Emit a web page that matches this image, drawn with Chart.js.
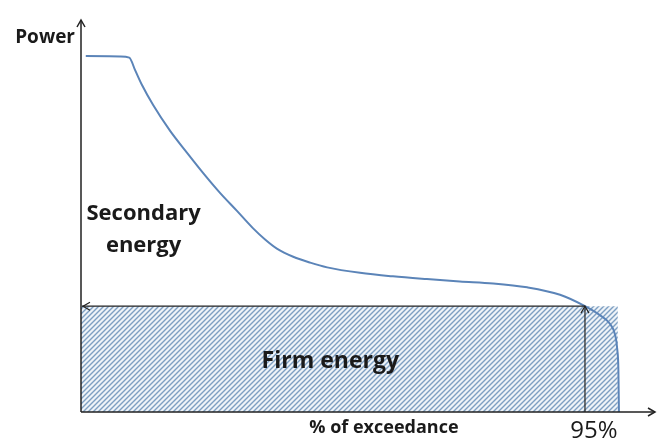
<!DOCTYPE html>
<html>
<head>
<meta charset="utf-8">
<script src="https://cdn.jsdelivr.net/npm/chart.js@4/dist/chart.umd.min.js"></script>
<style>
  html, body { margin: 0; padding: 0; background: #fff; }
  #wrap { width: 659px; height: 441px; }
</style>
</head>
<body>
<div id="wrap"><canvas id="duration"></canvas></div>
<script>
// % of exceedance vs power (arbitrary units, 0..100)
var exceedance = [0.9, 7.4, 9.1, 10.2, 11.5, 13.6, 16.8, 20.0, 23.0, 26.2, 29.4, 32.4, 34.7, 37.0, 40.0, 43.2, 46.4, 52.6, 58.8, 65.2, 71.4, 77.7, 84.1, 90.3, 95.0, 97.8, 99.7, 100.7, 101.1, 101.3, 101.4];
var power      = [90.8, 90.7, 90.4, 87.2, 83.4, 78.3, 71.7, 66.1, 61.0, 55.9, 51.3, 46.9, 44.0, 41.6, 39.6, 38.1, 36.9, 35.5, 34.6, 33.9, 33.3, 32.8, 31.8, 29.9, 27.0, 24.7, 22.5, 19.6, 15.8, 10.7, 0];
var firmLevel = 27.0;
var firmEnd = 101.2;
var firmPercent = 95;

var curveData = exceedance.map(function(x, i){ return {x: x, y: power[i]}; });

// diagonal hatch
function hatch(){
    var c = document.createElement('canvas'), s = 5;
    c.width = s; c.height = s;
    var g = c.getContext('2d');
    g.fillStyle = '#eef3f8';
    g.fillRect(0, 0, s, s);
    g.strokeStyle = '#7d9fc2';
    g.lineWidth = 1.4;
    g.beginPath();
    g.moveTo(-1, s + 1); g.lineTo(s + 1, -1);
    g.moveTo(-1, 1); g.lineTo(1, -1);
    g.moveTo(s - 1, s + 1); g.lineTo(s + 1, s - 1);
    g.stroke();
    return g.createPattern(c, 'repeat');
}

function arrowHead(ctx, x, y, dir){
    var a = 7, b = 4;
    ctx.beginPath();
    if(dir === 'up'){ ctx.moveTo(x - b, y + a); ctx.lineTo(x, y); ctx.lineTo(x + b, y + a); }
    if(dir === 'right'){ ctx.moveTo(x - a, y - b); ctx.lineTo(x, y); ctx.lineTo(x - a, y + b); }
    if(dir === 'left'){ ctx.moveTo(x + a, y - b); ctx.lineTo(x, y); ctx.lineTo(x + a, y + b); }
    ctx.stroke();
}

var overlay = {
    id: 'overlay',
    afterDatasetsDraw: function(chart){
        var ctx = chart.ctx, xs = chart.scales.x, ys = chart.scales.y;
        var x0 = xs.getPixelForValue(0), y0 = ys.getPixelForValue(0);
        var xEnd = xs.right, yTop = ys.top;
        var xf = xs.getPixelForValue(firmPercent), yf = ys.getPixelForValue(firmLevel);
        ctx.save();
        ctx.strokeStyle = '#222';
        ctx.lineWidth = 1.5;
        // axes
        ctx.beginPath();
        ctx.moveTo(x0, y0); ctx.lineTo(x0, yTop);
        ctx.moveTo(x0, y0); ctx.lineTo(xEnd, y0);
        ctx.stroke();
        arrowHead(ctx, x0, yTop, 'up');
        arrowHead(ctx, xEnd, y0, 'right');
        // firm level arrows
        ctx.lineWidth = 1.2;
        ctx.beginPath();
        ctx.moveTo(xf, yf); ctx.lineTo(x0 + 1, yf);
        ctx.moveTo(xf, y0); ctx.lineTo(xf, yf);
        ctx.stroke();
        arrowHead(ctx, x0 + 2, yf, 'left');
        arrowHead(ctx, xf, yf, 'up');

        // texts
        ctx.fillStyle = '#1a1a1a';
        ctx.textBaseline = 'middle';
        ctx.textAlign = 'right';
        ctx.font = 'bold 19px "Open Sans"';
        ctx.fillText('Power', x0 - 6, 38);

        ctx.textAlign = 'center';
        ctx.font = 'bold 22px "Open Sans"';
        ctx.fillText('Secondary', xs.getPixelForValue(11.8), ys.getPixelForValue(50.5));
        ctx.fillText('energy', xs.getPixelForValue(11.8), ys.getPixelForValue(42.3));

        ctx.font = 'bold 23px "Open Sans"';
        ctx.fillText('Firm energy', xs.getPixelForValue(47), ys.getPixelForValue(12.8));

        ctx.font = 'bold 18px "Open Sans"';
        ctx.fillText('% of exceedance', xs.getPixelForValue(57.1), y0 + 16);

        ctx.font = '24px "Open Sans"';
        ctx.fillText(firmPercent + '%', xf + 9, y0 + 19);
        ctx.restore();
    }
};

new Chart(document.getElementById('duration').getContext('2d'), {
    type: 'line',
    data: {
        datasets: [{
            label: 'Firm energy',
            data: [{x: 0, y: firmLevel}, {x: firmEnd, y: firmLevel}],
            borderWidth: 0,
            pointRadius: 0,
            backgroundColor: hatch(),
            fill: 'origin',
            order: 2
        }, {
            label: 'Power',
            data: curveData,
            borderColor: '#5b84b8',
            borderWidth: 2,
            pointRadius: 0,
            cubicInterpolationMode: 'monotone',
            fill: false,
            order: 1
        }]
    },
    options: {
        responsive: true,
        maintainAspectRatio: false,
        animation: false,
        layout: { padding: { left: 81, right: 4, top: 20, bottom: 29 } },
        plugins: { legend: { display: false }, tooltip: { enabled: false } },
        scales: {
            x: { type: 'linear', min: 0, max: 108.2, display: false },
            y: { type: 'linear', min: 0, max: 100, display: false }
        }
    },
    plugins: [overlay]
});
</script>
</body>
</html>
